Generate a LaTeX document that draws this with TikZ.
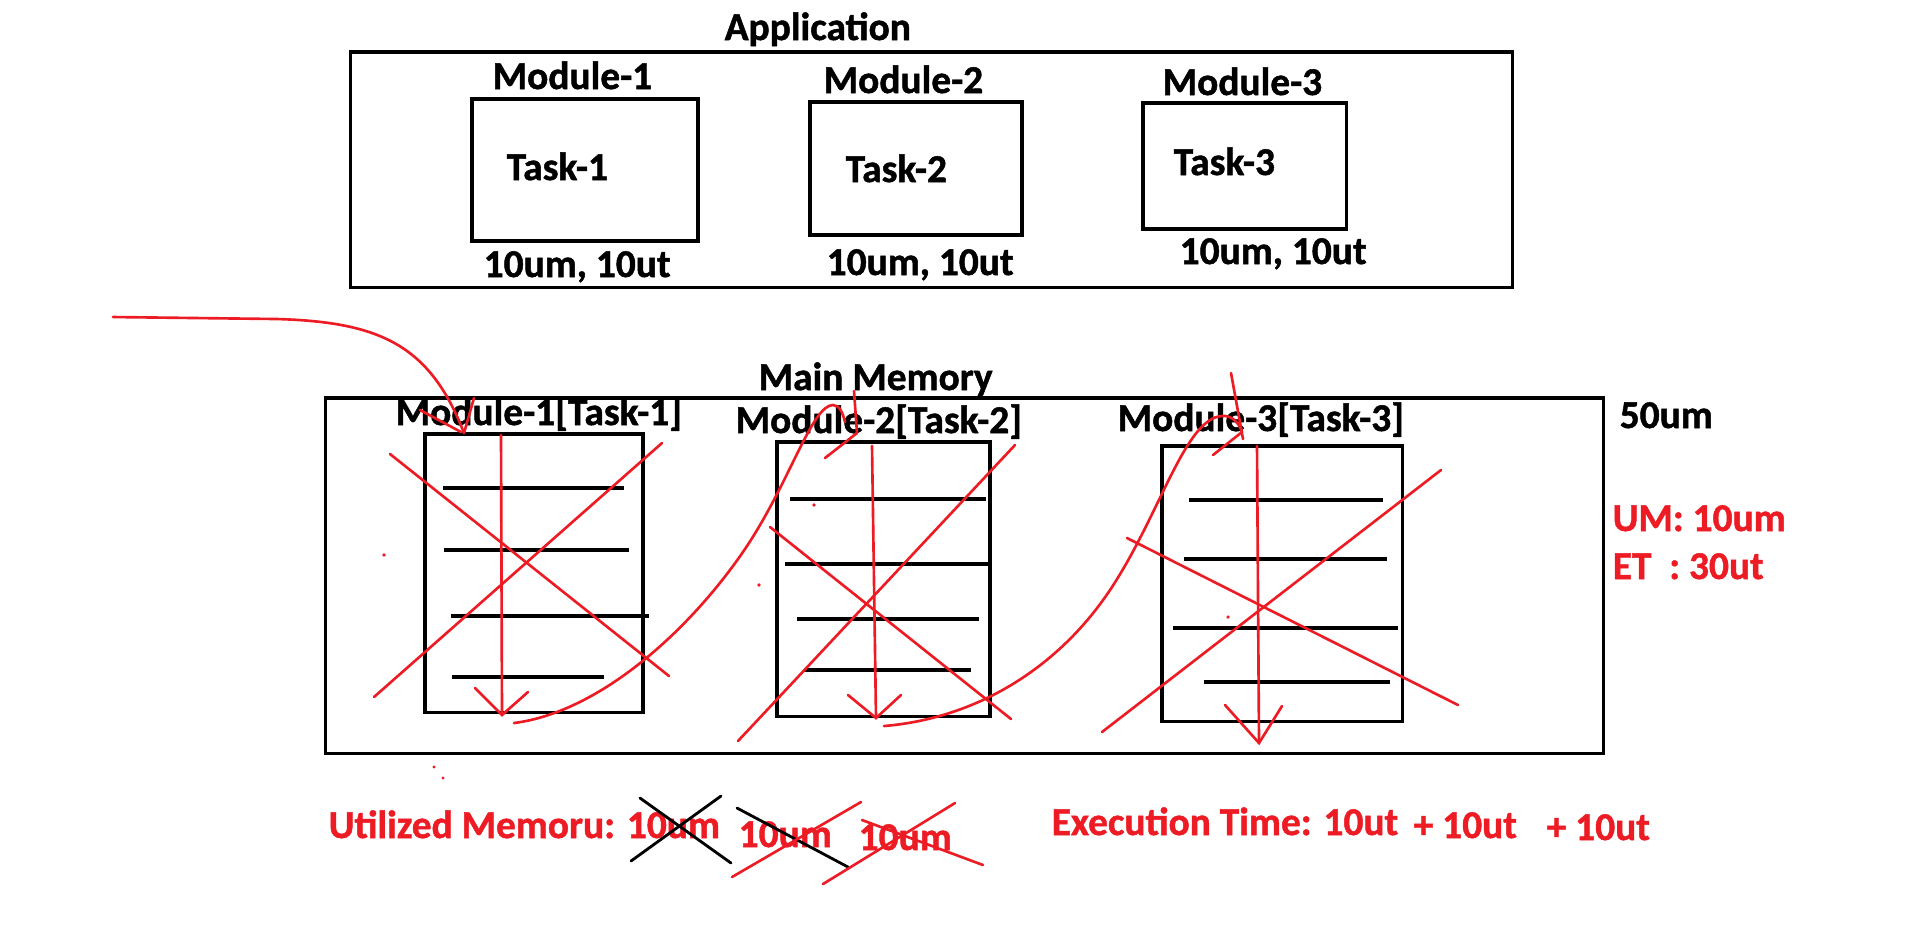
\documentclass[tikz,border=0pt]{standalone}
\usepackage{fontspec}
\setmainfont{Carlito}[BoldFeatures={FakeBold=1.2}]
\definecolor{pred}{RGB}{237,28,36}
\begin{document}
\begin{tikzpicture}[x=0.01cm,y=-0.01cm,
  lbl/.style={inner sep=0pt, font=\fontsize{11.2}{13}\selectfont\bfseries, anchor=base west},
  rlbl/.style={lbl, text=pred},
  box/.style={draw=black, line width=0.9pt, inner sep=0pt},
  bline/.style={draw=black, line width=0.9pt},
  ink/.style={draw=pred, line width=0.75pt, line cap=round},
  inkb/.style={draw=black, line width=0.8pt, line cap=round},
  speck/.style={fill=pred, draw=none}]
\useasboundingbox (0,0) rectangle (1913,947);

% ---------------- Application ----------------
\node[lbl] (apptitle) at (724,40) {Application};
\node[box, minimum width=11.61cm, minimum height=2.35cm] (app) at (931.5,169.5) {};

\node[lbl] (m1lbl) at (492,89) {Module-1};
\node[box, minimum width=2.26cm, minimum height=1.42cm] (a1) at (585,170) {};
\node[lbl] (t1) at (506,180) {Task-1};
\node[lbl] (c1) at (483,277) {10um, 10ut};

\node[lbl] (m2lbl) at (823,93) {Module-2};
\node[box, minimum width=2.12cm, minimum height=1.33cm] (a2) at (916,168.5) {};
\node[lbl] (t2) at (845,182) {Task-2};
\node[lbl] (c2) at (826,275) {10um, 10ut};

\node[lbl] (m3lbl) at (1162,95) {Module-3};
\node[box, minimum width=2.03cm, minimum height=1.26cm] (a3) at (1244.5,166) {};
\node[lbl] (t3) at (1173,175) {Task-3};
\node[lbl] (c3) at (1179,264) {10um, 10ut};

% ---------------- Main Memory ----------------
\node[lbl] (memtitle) at (758,390) {Main Memory};
\node[box, minimum width=12.77cm, minimum height=3.55cm] (mem) at (964.5,575.5) {};
\node[lbl] (size) at (1619,428) {50um};

\node[lbl] (mm1lbl) at (395,425) {Module-1[Task-1]};
\node[box, minimum width=2.18cm, minimum height=2.78cm] (b1) at (534,573) {};
\node[lbl] (mm2lbl) at (735,433) {Module-2[Task-2]};
\node[box, minimum width=2.13cm, minimum height=2.74cm] (b2) at (883.5,579) {};
\node[lbl] (mm3lbl) at (1117,431) {Module-3[Task-3]};
\node[box, minimum width=2.40cm, minimum height=2.75cm] (b3) at (1282,583.5) {};

% instruction lines
\draw[bline] (443,488) -- (624,488);
\draw[bline] (444,550) -- (629,550);
\draw[bline] (451,616) -- (649,616);
\draw[bline] (452,677) -- (604,677);

\draw[bline] (790,499) -- (986,499);
\draw[bline] (785,564) -- (988,564);
\draw[bline] (797,619) -- (979,619);
\draw[bline] (804,670) -- (971,670);

\draw[bline] (1189,500) -- (1383,500);
\draw[bline] (1184,559) -- (1387,559);
\draw[bline] (1173,628) -- (1398,628);
\draw[bline] (1204,682) -- (1390,682);

% ---------------- red annotations ----------------
\node[rlbl] (um) at (1612,531) {UM: 10um};
\node[rlbl] (et) at (1612,579) {ET~~: 30ut};

% flow into module 1
\coordinate (start) at (113,317);
\coordinate (tip1) at (464,433);
\draw[ink] (start) -- (277,319) .. controls (380,322) and (430,345) .. (tip1);
\draw[ink] (420,410) -- (461,432);
\draw[ink] (474,398) -- (tip1);

% execution arrow in each module
\coordinate (v1a) at (501,435); \coordinate (v1b) at (502,715);
\draw[ink] (v1a) -- (v1b);
\draw[ink] (475,688) -- (v1b) -- (528,692);
\coordinate (v2a) at (872,446); \coordinate (v2b) at (876,718);
\draw[ink] (v2a) -- (v2b);
\draw[ink] (848,695) -- (v2b) -- (901,695);
\coordinate (v3a) at (1257,446); \coordinate (v3b) at (1259,743);
\draw[ink] (v3a) -- (v3b);
\draw[ink] (1225,705) -- (v3b) -- (1282,706);

% curve module 1 -> module 2
\coordinate (c12s) at (514,723);
\coordinate (tip2) at (857,433);
\draw[ink] (c12s) .. controls (600,712) and (690,630) .. (745,549)
  .. controls (790,482) and (812,405) .. (833,405)
  .. controls (840,405) and (843,414) .. (845,422);
\draw[ink] (854,391) -- (tip2);
\draw[ink] (825,458) -- (tip2);

% curve module 2 -> module 3
\coordinate (c23s) at (884,726);
\coordinate (tip3) at (1242,432);
\draw[ink] (c23s) .. controls (980,718) and (1060,665) .. (1110,590)
  .. controls (1160,515) and (1185,418) .. (1222,416)
  .. controls (1232,415) and (1239,423) .. (tip3);
\draw[ink] (1213,455) -- (tip3);
\draw[ink] (1231,373) -- (1243,439);

% crosses over modules
\draw[ink] (390,454) -- (669,676);
\draw[ink] (374,697) -- (662,443);
\draw[ink] (770,527) -- (1011,719);
\draw[ink] (738,741) -- (1015,445);
\draw[ink] (1127,538) -- (1458,705);
\draw[ink] (1102,732) -- (1441,470);

% specks
\fill[speck] (384,555) circle (1.8);
\fill[speck] (814,505) circle (1.8);
\fill[speck] (759,585) circle (1.8);
\fill[speck] (1228,617) circle (1.8);
\fill[speck] (434,767) circle (1.6);
\fill[speck] (443,778) circle (1.6);

% ---------------- bottom sums ----------------
\node[rlbl] (used) at (328,838) {Utilized Memoru: 10um};
\node[rlbl] (used2) at (738,847) {10um};
\node[rlbl] (used3) at (858,850) {10um};
\draw[inkb] (640,798) -- (731,863);
\draw[inkb] (721,796) -- (631,861);
\draw[inkb] (737,808) -- (848,867);
\draw[ink] (732,877) -- (861,802);
\draw[ink] (862,820) -- (983,865);
\draw[ink] (823,884) -- (955,803);

\node[rlbl] (exec) at (1051,835) {Execution Time: 10ut};
\node[rlbl] (exec2) at (1413,838) {+ 10ut};
\node[rlbl] (exec3) at (1546,840) {+ 10ut};
\end{tikzpicture}
\end{document}
